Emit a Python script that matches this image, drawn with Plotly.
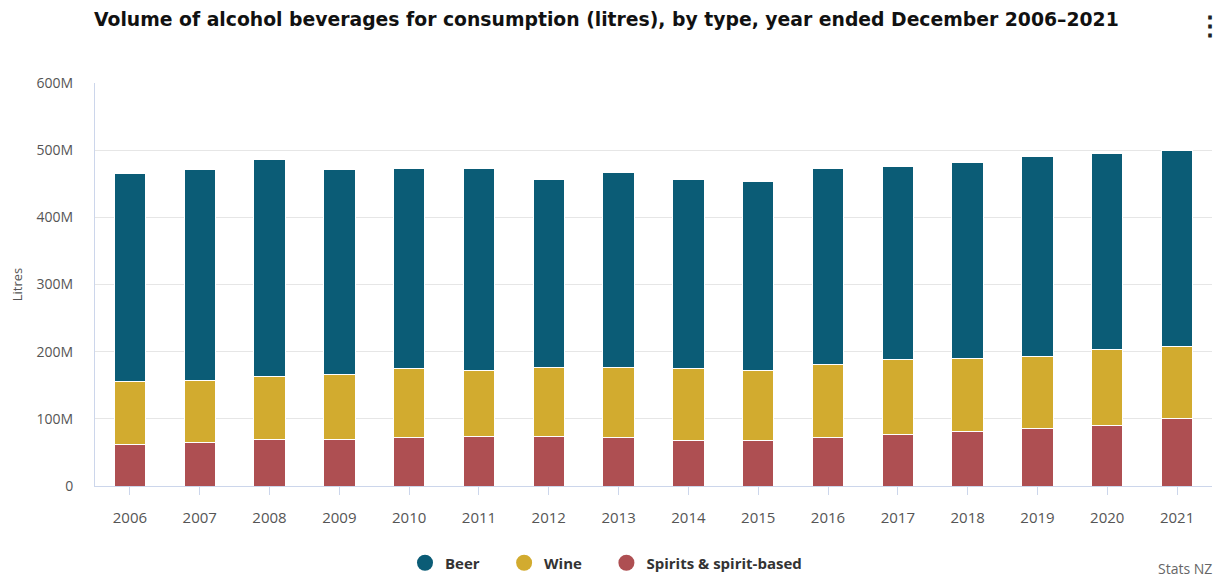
import plotly.graph_objects as go

years = ["2006", "2007", "2008", "2009", "2010", "2011", "2012", "2013",
         "2014", "2015", "2016", "2017", "2018", "2019", "2020", "2021"]
# values in millions of litres
spirits_m = [61.5, 65.5, 69.5, 69.5, 71.9, 74.4, 74.4, 71.9,
             67.4, 67.4, 71.9, 76.4, 80.8, 85.3, 89.7, 100.1]
wine_m = [93.7, 92.2, 94.2, 96.7, 102.7, 97.8, 101.7, 104.2,
          107.2, 105.2, 109.2, 112.1, 109.2, 107.1, 113.7, 107.2]
beer_m = [309.5, 313.0, 322.5, 304.5, 298.6, 301.0, 279.7, 290.7,
          281.2, 280.8, 292.1, 287.2, 292.1, 298.7, 291.7, 292.3]

tick_vals = [0, 100e6, 200e6, 300e6, 400e6, 500e6, 600e6]
tick_text = ["0", "100M", "200M", "300M", "400M", "500M", "600M"]

BEER_C, WINE_C, SPIRIT_C = "#0b5c76", "#d2ab2f", "#ae4f52"

series = [
    ("Spirits & spirit-based", spirits_m, SPIRIT_C),
    ("Wine", wine_m, WINE_C),
    ("Beer", beer_m, BEER_C),
]

# page has an 8px body margin; compensate so the plot sits where the reference has it
OFF = 8
W, H = 1222 - OFF, 578 - OFF

fig = go.Figure()
for name, vals, color in series:
    fig.add_trace(go.Bar(
        x=years, y=[v * 1e6 for v in vals], name=name,
        marker=dict(color=color, line=dict(color="white", width=1)),
        showlegend=False,
    ))

PAD = "\u00a0" * 5
legend_order = [("Beer", BEER_C, PAD), ("Wine", WINE_C, PAD), ("Spirits & spirit-based", SPIRIT_C, "")]
for name, color, pad in legend_order:
    fig.add_trace(go.Scatter(
        x=[None], y=[None], mode="markers", name="<b>" + name + "</b>" + pad,
        marker=dict(symbol="circle", size=18, color=color),
    ))

plot_left, plot_right, plot_top, plot_bottom = 95, 1212, 83, 486
ml = plot_left - OFF
mt = plot_top - OFF
mr = (OFF + W) - plot_right
mb = (OFF + H) - plot_bottom
ph = plot_bottom - plot_top
pw = plot_right - plot_left

fig.update_layout(
    width=W, height=H,
    barmode="stack", bargap=0.55,
    paper_bgcolor="white", plot_bgcolor="white",
    margin=dict(l=ml, r=mr, t=mt, b=mb, autoexpand=False),
    font=dict(family="Open Sans, sans-serif", color="#555555", size=14),
    title=dict(
        text="<b>Volume of alcohol beverages for consumption (litres), by type, year ended December 2006\u20132021</b>",
        x=(94 - OFF) / W, xanchor="left", y=1 - (19 - OFF) / H, yanchor="middle",
        font=dict(family="DejaVu Sans, sans-serif", size=18.8, color="#111111"),
    ),
    legend=dict(
        orientation="h", xref="container", x=(606 - OFF) / W, xanchor="center",
        yref="container", y=1 - (563 - OFF) / H, yanchor="middle",
        font=dict(family="Open Sans, sans-serif", size=15, color="#333333"),
        itemsizing="trace", traceorder="normal",
    ),
    xaxis=dict(
        type="category", showgrid=False,
        showline=True, linecolor="#ccd6eb", linewidth=1,
        ticks="outside", ticklen=8, tickcolor="#ccd6eb",
        ticklabelstandoff=10,
        tickfont=dict(size=15, color="#555555"),
    ),
    yaxis=dict(
        range=[0, 600e6], tickvals=tick_vals, ticktext=tick_text,
        showgrid=True, gridcolor="#e6e6e6", gridwidth=1,
        showline=True, linecolor="#ccd6eb", linewidth=1,
        zeroline=False, ticks="", ticklabelstandoff=18,
        tickfont=dict(size=14, color="#555555"),
        title=dict(text="Litres", font=dict(size=13, color="#555555"), standoff=18),
    ),
    annotations=[
        dict(text="Stats NZ", xref="paper", yref="paper",
             x=(1214 - plot_left) / pw, xanchor="right",
             y=-(568 - plot_bottom) / ph, yanchor="middle",
             showarrow=False, font=dict(size=14, color="#666666")),
        dict(text="<b>\u22ee</b>", xref="paper", yref="paper",
             x=(1210 - plot_left) / pw, xanchor="center",
             y=(plot_bottom - 25) / ph, yanchor="middle",
             showarrow=False, font=dict(size=26, color="#222222")),
    ],
)

fig.write_html("out.html")
